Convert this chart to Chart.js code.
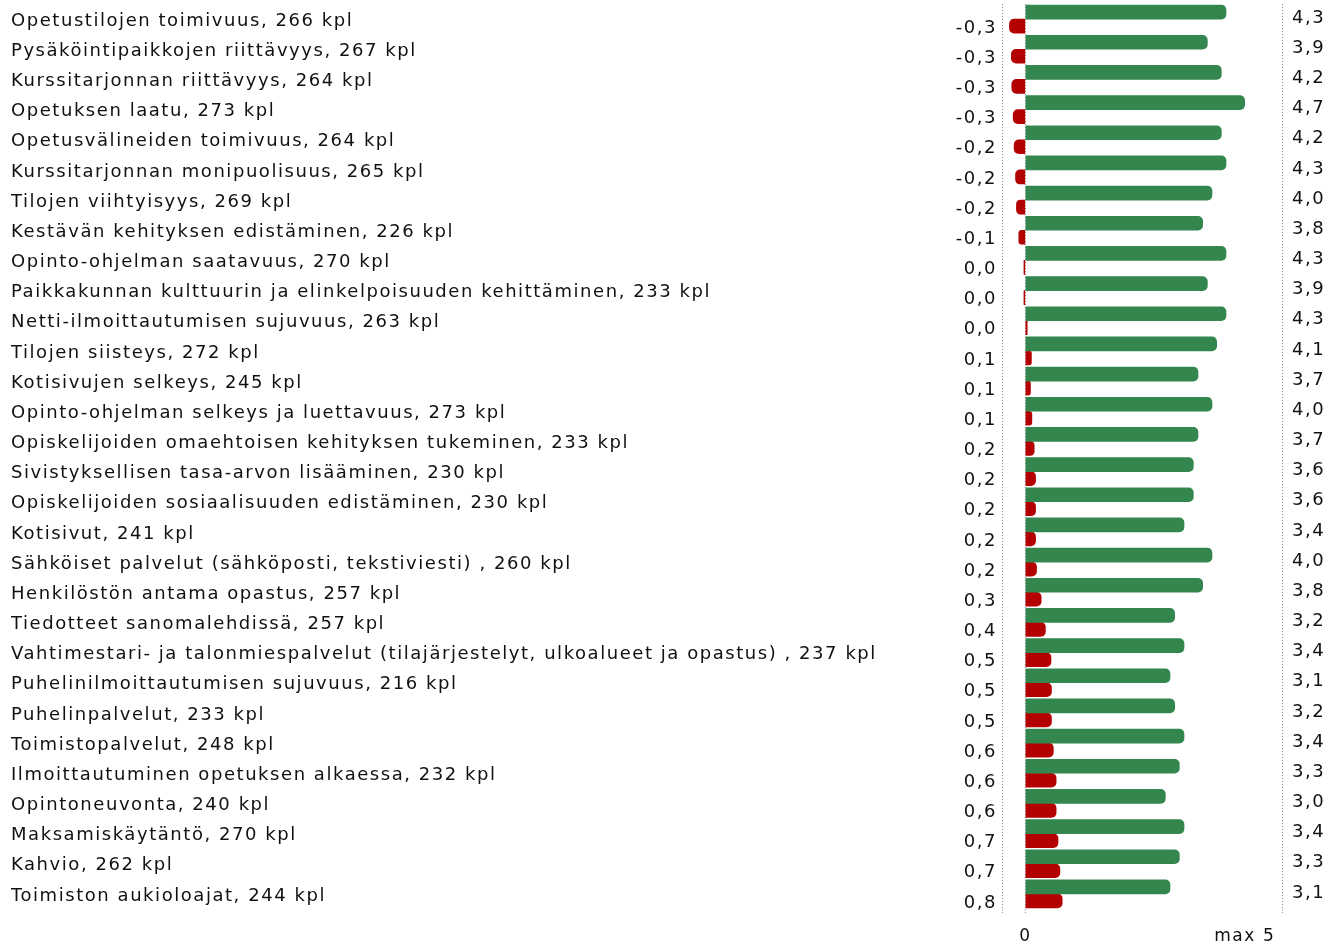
<!DOCTYPE html>
<html lang="fi">
<head>
<meta charset="utf-8">
<title>Palautekysely</title>
<script src="https://cdn.jsdelivr.net/npm/chart.js@4.4.1/dist/chart.umd.min.js"></script>
<style>
    html, body { margin: 0; padding: 0; background: #fff; }
    .chart-wrap { position: relative; width: 1339px; height: 941px; }
</style>
</head>
<body>
<div class="chart-wrap"><canvas id="chart"></canvas></div>
<script>
// Data
const categories = [
    'Opetustilojen toimivuus, 266 kpl',
    'Pysäköintipaikkojen riittävyys, 267 kpl',
    'Kurssitarjonnan riittävyys, 264 kpl',
    'Opetuksen laatu, 273 kpl',
    'Opetusvälineiden toimivuus, 264 kpl',
    'Kurssitarjonnan monipuolisuus, 265 kpl',
    'Tilojen viihtyisyys, 269 kpl',
    'Kestävän kehityksen edistäminen, 226 kpl',
    'Opinto-ohjelman saatavuus, 270 kpl',
    'Paikkakunnan kulttuurin ja elinkelpoisuuden kehittäminen, 233 kpl',
    'Netti-ilmoittautumisen sujuvuus, 263 kpl',
    'Tilojen siisteys, 272 kpl',
    'Kotisivujen selkeys, 245 kpl',
    'Opinto-ohjelman selkeys ja luettavuus, 273 kpl',
    'Opiskelijoiden omaehtoisen kehityksen tukeminen, 233 kpl',
    'Sivistyksellisen tasa-arvon lisääminen, 230 kpl',
    'Opiskelijoiden sosiaalisuuden edistäminen, 230 kpl',
    'Kotisivut, 241 kpl',
    'Sähköiset palvelut (sähköposti, tekstiviesti) , 260 kpl',
    'Henkilöstön antama opastus, 257 kpl',
    'Tiedotteet sanomalehdissä, 257 kpl',
    'Vahtimestari- ja talonmiespalvelut (tilajärjestelyt, ulkoalueet ja opastus) , 237 kpl',
    'Puhelinilmoittautumisen sujuvuus, 216 kpl',
    'Puhelinpalvelut, 233 kpl',
    'Toimistopalvelut, 248 kpl',
    'Ilmoittautuminen opetuksen alkaessa, 232 kpl',
    'Opintoneuvonta, 240 kpl',
    'Maksamiskäytäntö, 270 kpl',
    'Kahvio, 262 kpl',
    'Toimiston aukioloajat, 244 kpl'
];

const meanValues = [4.3, 3.9, 4.2, 4.7, 4.2, 4.3, 4.0, 3.8, 4.3, 3.9,
                    4.3, 4.1, 3.7, 4.0, 3.7, 3.6, 3.6, 3.4, 4.0, 3.8,
                    3.2, 3.4, 3.1, 3.2, 3.4, 3.3, 3.0, 3.4, 3.3, 3.1];

const gapValues = [-0.34, -0.30, -0.29, -0.26, -0.24, -0.21, -0.19, -0.14, -0.03, -0.03,
                   0.04, 0.13, 0.11, 0.14, 0.19, 0.22, 0.22, 0.22, 0.24, 0.34,
                   0.43, 0.55, 0.56, 0.56, 0.60, 0.66, 0.66, 0.70, 0.74, 0.79];

const meanLabels = ['4,3', '3,9', '4,2', '4,7', '4,2', '4,3', '4,0', '3,8', '4,3', '3,9',
                    '4,3', '4,1', '3,7', '4,0', '3,7', '3,6', '3,6', '3,4', '4,0', '3,8',
                    '3,2', '3,4', '3,1', '3,2', '3,4', '3,3', '3,0', '3,4', '3,3', '3,1'];

const gapLabels = ['-0,3', '-0,3', '-0,3', '-0,3', '-0,2', '-0,2', '-0,2', '-0,1', '0,0', '0,0',
                   '0,0', '0,1', '0,1', '0,1', '0,2', '0,2', '0,2', '0,2', '0,2', '0,3',
                   '0,4', '0,5', '0,5', '0,5', '0,6', '0,6', '0,6', '0,7', '0,7', '0,8'];

const xTickValues = [-0.5, 0, 5, 5.5];
// trailing spaces pull "max 5" a little left of the tick, as in the original
const xTickText = { 0: '0', 5: 'max 5    ' };

// Style
const colors = {
    mean: '#33874e',
    gap: '#b30000',
    text: '#111111',
    grid: '#8f8f8f'
};
const baseFont = { family: '"DejaVu Sans", Verdana, sans-serif', size: 18 };

// canvas letter spacing (the original text is slightly spaced out)
const spacingPlugin = {
    id: 'spacing',
    beforeLayout(chart) { chart.ctx.letterSpacing = '1.55px'; },
    beforeDraw(chart) { chart.ctx.letterSpacing = '1.55px'; }
};

// fixed axis sizes, no extra room for the first/last labels
function fixWidth(width) {
    return scale => {
        scale.width = width;
        scale.paddingTop = 0;
        scale.paddingBottom = 0;
    };
}

const hiddenGrid = { display: false };
const hiddenBorder = { display: false };

new Chart(document.getElementById('chart'), {
    type: 'bar',
    data: {
        labels: categories,
        datasets: [
            {
                data: meanValues,
                backgroundColor: colors.mean,
                borderRadius: 5,
                borderSkipped: 'start',
                barThickness: 14,
                categoryPercentage: 0.795
            },
            {
                data: gapValues,
                backgroundColor: colors.gap,
                borderRadius: 5,
                borderSkipped: 'start',
                barThickness: 14,
                categoryPercentage: 0.795
            }
        ]
    },
    options: {
        indexAxis: 'y',
        responsive: true,
        maintainAspectRatio: false,
        animation: false,
        layout: { padding: { left: 11, top: 4, right: 0, bottom: 0 } },
        plugins: {
            legend: { display: false },
            tooltip: { enabled: false }
        },
        scales: {
            x: {
                min: -0.5,
                max: 5.5,
                afterBuildTicks(scale) {
                    scale.ticks = xTickValues.map(v => ({ value: v }));
                },
                afterFit(scale) {
                    scale.height = 32;
                    scale.paddingLeft = 0;
                    scale.paddingRight = 0;
                },
                grid: {
                    color: ctx => (ctx.tick && ctx.tick.value === 5) ? 'rgba(0,0,0,0)' : colors.grid,
                    lineWidth: 1,
                    tickLength: 4,
                    tickBorderDash: [1, 2]
                },
                border: { display: false, dash: [1, 2] },
                ticks: {
                    autoSkip: false,
                    maxRotation: 0,
                    padding: 13,
                    color: colors.text,
                    font: { ...baseFont, size: 17 },
                    callback: value => xTickText[value] || ''
                }
            },
            y: {
                position: 'left',
                weight: 2,
                afterFit: fixWidth(940),
                grid: hiddenGrid,
                border: hiddenBorder,
                ticks: {
                    autoSkip: false,
                    crossAlign: 'far',
                    labelOffset: 2,
                    color: colors.text,
                    font: baseFont
                }
            },
            yGap: {
                type: 'category',
                labels: gapLabels,
                position: 'left',
                weight: 1,
                afterFit: fixWidth(51),
                grid: { display: false, drawTicks: false },
                border: hiddenBorder,
                ticks: {
                    autoSkip: false,
                    padding: 5,
                    labelOffset: 9,
                    color: colors.text,
                    font: baseFont
                }
            },
            yMean: {
                type: 'category',
                labels: meanLabels,
                position: 'right',
                afterFit: fixWidth(57),
                grid: { display: false, drawTicks: false },
                border: hiddenBorder,
                ticks: {
                    autoSkip: false,
                    padding: 10,
                    labelOffset: -1,
                    color: colors.text,
                    font: baseFont
                }
            }
        }
    },
    plugins: [spacingPlugin]
});
</script>
</body>
</html>
